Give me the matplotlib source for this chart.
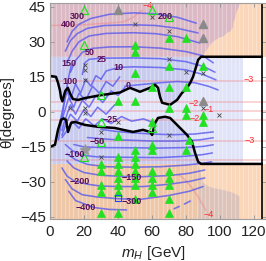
import matplotlib
matplotlib.use("Agg")
import matplotlib.pyplot as plt
import numpy as np
from matplotlib.patches import Polygon, Rectangle

plt.rcParams['font.family'] = ['Liberation Sans', 'DejaVu Sans']
plt.rcParams['mathtext.fontset'] = 'custom'
plt.rcParams['mathtext.rm'] = 'Liberation Sans'
plt.rcParams['mathtext.it'] = 'Liberation Sans:italic'

# ---------------- data ----------------
x_ticks = [0, 20, 40, 60, 80, 100, 120]
y_ticks = [-45, -30, -15, 0, 15, 30, 45]
x_label = "$m_H$ [GeV]"
y_label = "θ[degrees]"
x_range = [0, 127]
y_range = [-46, 46.8]

band_top = 23.6
band_bottom = -22.3
box_left = 88.8
box_right = 124.5
blue_right = 113.5
tan_right = 87.1

upper_black_x = [0, 3.5, 4.7, 5.9, 6.5, 7.3, 8.2, 9.0, 10.5, 12.0, 13.5, 16.5, 20.5, 25, 29.4, 35.3, 41.2, 47,
                 52.9, 58.8, 61.8, 63.5, 64.7, 65.9, 70.6, 74.7, 77.6, 80.6, 82.5, 84.1, 85.9, 87.1, 88.8]
upper_black_y = [15.4, 15, 12.5, 9, 6, 4.5, 7, 9, 10.3, 7.5, 5.5, 5.1, 5.9, 6.5, 7.1, 7.7, 8.3, 10.3,
                 8.6, 10.3, 11.6, 10.3, 6.4, 3.9, 3, 5.1, 8.1, 10.3, 12.5, 15, 19.3, 22.3, 23.6]
lower_black_x = [0, 2.9, 4.7, 6.5, 8.0, 9.4, 10.6, 12.4, 14.7, 20.6, 28.2, 38.2, 42.9, 48.8, 54.7, 58.8, 60,
                 61.8, 63.5, 67.6, 70.6, 73.5, 77.6, 80.6, 83.5, 85.3, 87.1, 88.8]
lower_black_y = [-15, -14.1, -7.7, -3.4, -2.8, -3.4, -8.6, -4.7, -4.3, -5.6, -6.4, -6.9, -7.7, -8.6, -7.7, -8.6, -9.9,
                 -4.7, -2.6, -2.1, -2.6, -4.7, -7.7, -9.9, -12.9, -17.6, -21.4, -22.3]

top_edge_x = [88.8, 90.2, 92.2, 94.1, 96, 98, 100, 101.9, 103.9, 105.9, 107.5, 107.8, 108.8, 109.8, 110.8, 111.5, 112]
top_edge_y = [23.6, 24.4, 26.6, 28.7, 30.1, 31.1, 32, 32.3, 33.7, 34.4, 35.9, 38, 40.1, 43, 44.6, 46, 47]
bottom_edge_x = [87.1, 88.5, 90, 93, 95.9, 99, 102, 105.7, 107.6, 110, 111.6, 111.6]
bottom_edge_y = [-22.3, -26, -30.4, -31.8, -32.6, -33, -33.5, -34.2, -34.7, -35.5, -36.3, -47]

blue_upper_x = [
    [10, 13, 17, 24, 35, 49, 62, 75, 86],
    [9, 12, 16, 22, 32, 49, 62, 75, 87],
    [10, 13, 17, 23, 33, 49, 62, 75, 88],
    [12, 15, 19, 25, 35, 49, 65, 80, 90, 96],
    [19, 20.5, 23, 30, 49, 65, 80, 90, 97],
    [30, 33, 40, 49, 65, 80, 90, 97.6],
    [44, 55, 65, 75, 85, 93, 98.8],
]
blue_upper_y = [
    [30, 34.5, 37.5, 40, 41.8, 42.4, 42, 40.5, 38],
    [26, 30.5, 33.5, 35.8, 37, 37.3, 37, 35.8, 33.8],
    [21, 26, 30, 32.5, 33.6, 33.9, 33.5, 32.2, 29.5],
    [17, 22, 25.5, 27.2, 27.8, 27.9, 27.3, 25.8, 24, 21],
    [16, 21, 22.5, 23, 23.1, 22.8, 21.5, 19.5, 17],
    [14, 17.5, 19, 19.3, 19, 18, 16, 13.7],
    [11, 11.8, 12.5, 13, 12.5, 11, 9.4],
]
blue_lower_x = [
    [30, 40, 49, 60, 72, 85, 96],
    [22, 30, 40, 49, 60, 75, 88, 96],
    [14, 20, 30, 49, 65, 80, 90, 96],
    [9, 13, 18, 28, 49, 65, 80, 90, 95.5],
    [10, 15, 22, 33, 49, 65, 80, 90, 95],
    [10, 14, 20, 30, 44, 53, 70, 82, 91],
    [7, 10, 14, 22, 30, 42, 55, 70, 82, 91],
    [9, 13, 19, 28, 40, 53, 70, 82, 90],
    [11, 15, 26, 35, 45],
    [73, 76],
    [79, 82.5],
]
blue_lower_y = [
    [-7.5, -8.5, -9, -9.5, -9.8, -9.5, -8.6],
    [-11, -11.5, -12, -12.2, -12.5, -12.5, -12, -11.1],
    [-14, -15, -15.3, -15.4, -15.5, -15.3, -14.8, -14.1],
    [-14, -16.5, -18.5, -19.3, -19.5, -19.6, -19, -18.3, -17.6],
    [-18, -20.5, -22.5, -23.5, -23.7, -23.5, -22.8, -22, -21.4],
    [-21, -24, -26, -27.2, -27.7, -27.8, -27.3, -26.3, -24.9],
    [-24, -27.5, -29.5, -31, -31.8, -32, -32, -31, -29.8, -28.3],
    [-29, -33, -35.5, -36.5, -37.2, -37.5, -35.8, -34, -32],
    [-34, -38, -41, -41.8, -42],
    [-41.5, -40.5],
    [-39.5, -38.2],
]
zig_x = [
    [6, 8, 10, 12, 15, 18, 21, 24, 27, 30],
    [6, 8.5, 11, 14, 17, 21, 25, 29, 33, 37, 41],
    [7, 9, 12, 15, 19, 23, 27, 31, 36, 40, 44],
    [7, 9, 12, 16, 20, 24, 28, 33, 38],
    [7, 10, 13, 17, 21, 26, 31, 36, 42, 48, 55, 62],
    [5, 6.5, 8, 9.5, 11, 12.5],
]
zig_y = [
    [-4, 3, 9, 5, 12, 8, 14, 11, 15.5, 14],
    [-6, 0, 6, 2, 8, 5, 11, 8, 13, 11, 15],
    [-8, -3, 3, -1, 5, 2, 7, 4, 9, 7, 10.5],
    [-10, -6, -1, -4, 1, -2, 2, -1, 3],
    [-11, -8, -4, -7, -3, -6, -3, -5, -2, -4, -3, -5],
    [-12, -5, 2, 9, 15, 20],
]

red_levels = [13.2, 4.2, 0.3, -3.3, -12.5, -20.6]
red_top_x = [0, 20, 43, 49, 54]
red_top_y = [37, 37.3, 38.5, 40.5, 43.5]
red_bot_x = [76, 80, 84, 88, 91.5]
red_bot_y = [-27, -29.5, -33, -37.5, -42]

filled_x = [70, 80, 50, 50, 70, 90, 50, 60, 70, 80, 50, 70, 80, 80, 90, 90, 40, 60, 82, 40,
            60, 60, 50, 80, 40, 50, 30, 40, 50, 30, 40, 50, 60, 70, 40, 50, 60, 70, 30, 40, 50, 60, 70,
            30, 40, 60, 50, 70, 30, 40, 70]
filled_y = [31.5, 31.5, 28.5, 25.5, 19.5, 19.5, 16.5, 10.5, 10.5, 10.5, 4.5, 1.5, 1.5, -1.5, -1.5, -4.5, 4.5, -4.5, -12, -10.5,
            -14, -16.5, -16.5, -16.5, -19.5, -19.5, -22.5, -22.5, -22.5, -25.5, -25.5, -25.5, -25.5, -25.5,
            -28.5, -28.5, -28.5, -28.5, -31.5, -31.5, -31.5, -31.5, -31.5, -34.5, -34.5, -34.5, -37.5, -37.5,
            -43.5, -43.5, -43.5]
hollow_x = [20, 60, 70, 20, 30, 30, 30, 20, 60]
hollow_y = [43.7, 43.7, 40.7, 28.7, 7.3, -4.3, -12.9, -19.3, -7]
grey_x = [40, 90, 90, 90]
grey_y = [43.7, 37.7, 31.7, 4.5]
cross_x = [20.5, 20.5, 20.5, 60, 50, 70, 70, 80, 90, 90, 99.5, 20.5, 11.6, 20.5, 30, 40, 70, 30]
cross_y = [20, 18, 13.7, 40.7, 37.5, 34.7, 22.7, 17, 16.7, 1.5, -1.3, 1.5, 1.7, -0.5, -8.6, -4.3, -10, -19.3]
star_x = [20.5]
star_y = [-16.3]
square_x = [40]
square_y = [-36.9]

clabel_text = ["400", "300", "200", "150", "100", "50", "25", "10", "0",
               "−25", "−50", "−100", "−150", "−200", "−300", "−400"]
clabel_x = [10.7, 16, 67.6, 11.4, 11.8, 23.5, 30.3, 40.2, 46, 35.3, 27.5, 14.7, 48.2, 17.6, 48.2, 20.9]
clabel_y = [37.3, 41, 40.7, 20.6, 13, 25.5, 22.5, 18.8, 11.1, -3.4, -12.9, -18.4, -28, -30, -38.6, -41.1]
rlabel_text = ["−4", "−3", "−2", "−1", "−2", "−3", "−4"]
rlabel_x = [57.6, 116.7, 84.3, 93.1, 85.3, 117.6, 93.5]
rlabel_y = [45.4, 13.7, 3.7, 0.9, -2.7, -12.4, -43.9]

# ---------------- styles ----------------
peach = "#fbd6b8"
mauve = "#dbb8c4"
tan = "#efc6a6"
grey_tan = "#dcc2b8"
light_blue = "#e1e4f8"
mid_blue = "#c9cbee"
blue_line = "#5a5aee"
green = "#22e022"
purple_txt = "#5a0f5a"
red_txt = "#ff2a2a"

fig = plt.figure(figsize=(2.66, 2.61), dpi=100)
ax = fig.add_axes([0.188, 0.160, 0.812, 0.830])
ax.set_xlim(x_range)
ax.set_ylim(y_range)

X0, X1 = -5, 135
Y0, Y1 = -50, 50
# top band
ax.add_patch(Rectangle((X0, band_top), X1 - X0, Y1 - band_top, color=peach, lw=0, zorder=0))
top_poly = [(X0, band_top)] + list(zip(top_edge_x, top_edge_y)) + [(top_edge_x[-1], Y1), (X0, Y1)]
ax.add_patch(Polygon(top_poly, closed=True, color=mauve, lw=0, zorder=0.1))
# bottom band
ax.add_patch(Rectangle((X0, Y0), X1 - X0, band_bottom - Y0, color=peach, lw=0, zorder=0))
ax.add_patch(Rectangle((X0, Y0), tan_right - X0, band_bottom - Y0, color=tan, lw=0, zorder=0.1))
bot_poly = list(zip(bottom_edge_x, bottom_edge_y)) + [(bottom_edge_x[-1], Y0), (tan_right, Y0)]
ax.add_patch(Polygon(bot_poly, closed=True, color=grey_tan, lw=0, zorder=0.1))
# middle band
ax.add_patch(Rectangle((X0, band_bottom), blue_right - X0, band_top - band_bottom, color=light_blue, lw=0, zorder=0))
up_poly = [(X0, upper_black_y[0])] + list(zip(upper_black_x, upper_black_y)) + [(X0, band_top)]
ax.add_patch(Polygon(up_poly, closed=True, color=mid_blue, lw=0, zorder=0.1))
lo_poly = [(X0, lower_black_y[0])] + list(zip(lower_black_x, lower_black_y)) + [(X0, band_bottom)]
ax.add_patch(Polygon(lo_poly, closed=True, color=mid_blue, lw=0, zorder=0.1))

# stripes
for xv in np.arange(1.25, 125, 2.5):
    ax.axvline(xv, color="white", alpha=0.3, lw=0.9, zorder=0.5)

# red faint contours
for lv in red_levels:
    ax.axhline(lv, color="#f08888", alpha=0.45, lw=1.1, zorder=1)
ax.plot(red_top_x, red_top_y, color="#f08888", alpha=0.5, lw=1.1, zorder=1)
ax.plot(red_bot_x, red_bot_y, color="#f08888", alpha=0.5, lw=1.1, zorder=1)

# blue contours
for xs, ys in zip(blue_upper_x + blue_lower_x + zig_x, blue_upper_y + blue_lower_y + zig_y):
    ax.plot(xs, ys, color=blue_line, alpha=0.8, lw=1.15, zorder=2, solid_capstyle="round")

# black boundaries
ax.plot(upper_black_x + [box_right], upper_black_y + [band_top], color="black", lw=1.8, zorder=3)
ax.plot(lower_black_x + [box_right], lower_black_y + [band_bottom], color="black", lw=1.8, zorder=3)
ax.axvline(box_right, color="black", lw=1.2, zorder=3)

# markers
ax.plot(filled_x, filled_y, ls="none", marker="^", ms=5.2, mfc=green, mec=green, mew=0.5, zorder=4)
ax.plot(hollow_x, hollow_y, ls="none", marker="^", ms=5.2, mfc="none", mec=green, mew=0.9, zorder=4)
ax.plot(grey_x, grey_y, ls="none", marker="^", ms=5.2, mfc="#8a8a8a", mec="#8a8a8a", zorder=4)
ax.plot(cross_x, cross_y, ls="none", marker="x", ms=2.5, mec="#444444", mew=0.6, zorder=4)
ax.plot(star_x, star_y, ls="none", marker="*", ms=8, mfc="#999999", mec="#999999", zorder=4)
ax.plot(square_x, square_y, ls="none", marker="s", ms=4.5, mfc="none", mec="#2244ff", mew=0.8, zorder=4)

for t, x, y in zip(clabel_text, clabel_x, clabel_y):
    ax.text(x, y, t, color=purple_txt, fontsize=6.5, fontweight="bold", ha="center", va="center", zorder=5)
for t, x, y in zip(rlabel_text, rlabel_x, rlabel_y):
    ax.text(x, y, t, color=red_txt, fontsize=6.5, ha="center", va="center", zorder=5)

ax.set_xticks(x_ticks)
ax.set_yticks(y_ticks)
ax.tick_params(direction="in", length=3, width=0.5, color="#888888", top=True, right=True,
               labelsize=11, labelcolor="#222222")
ax.tick_params(axis="x", pad=4)
ax.tick_params(axis="y", pad=3)
for sp in ax.spines.values():
    sp.set_color("#a0a0a0")
    sp.set_linewidth(0.8)
    sp.set_zorder(6)

ax.set_xlabel(x_label, fontsize=11, color="#222222")
ax.set_ylabel(y_label, fontsize=11, color="#222222")
ax.xaxis.set_label_coords(0.477, -0.115)
ax.yaxis.set_label_coords(-0.165, 0.495)

fig.savefig("out.png", dpi=100)
